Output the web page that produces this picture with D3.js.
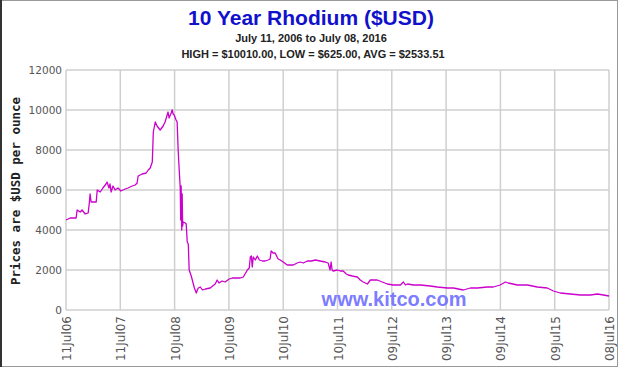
<!DOCTYPE html>
<html><head><meta charset="utf-8">
<script src="https://cdn.jsdelivr.net/npm/d3@7"></script>
<style>body{margin:0;background:#fff}svg{display:block}</style>
</head><body>
<svg id="c" width="620" height="367"></svg>
<script>
const titleText = "10 Year Rhodium ($USD)";
const subtitleText = "July 11, 2006 to July 08, 2016";
const statsText = "HIGH = $10010.00, LOW = $625.00, AVG = $2533.51";
const yAxisLabel = "Prices are $USD per ounce";
const watermarkText = "www.kitco.com";

const dates = ["2006-07-11","2006-08-08","2006-09-17","2006-09-24","2006-10-14","2006-10-27","2006-11-17","2006-12-07","2006-12-14","2006-12-20","2006-12-27","2007-01-30","2007-02-06","2007-02-26","2007-03-16","2007-04-06","2007-04-13","2007-04-26","2007-05-03","2007-05-10","2007-05-23","2007-06-06","2007-06-26","2007-07-15","2007-08-12","2007-09-01","2007-09-29","2007-10-19","2007-11-01","2007-11-08","2007-12-05","2008-01-01","2008-01-15","2008-01-28","2008-02-11","2008-02-18","2008-03-02","2008-03-14","2008-04-04","2008-04-24","2008-05-07","2008-05-21","2008-05-27","2008-06-03","2008-06-17","2008-06-24","2008-06-30","2008-07-07","2008-07-20","2008-07-27","2008-08-03","2008-08-10","2008-08-17","2008-08-20","2008-08-23","2008-08-27","2008-08-30","2008-09-02","2008-09-06","2008-09-20","2008-09-26","2008-10-03","2008-10-10","2008-10-16","2008-10-30","2008-11-06","2008-11-13","2008-11-20","2008-12-03","2008-12-10","2008-12-16","2008-12-30","2009-01-13","2009-02-02","2009-03-06","2009-04-09","2009-04-22","2009-05-05","2009-05-25","2009-06-15","2009-07-12","2009-08-01","2009-09-25","2009-10-15","2009-11-11","2009-11-24","2009-12-01","2009-12-08","2009-12-14","2009-12-21","2010-01-04","2010-01-17","2010-01-31","2010-02-20","2010-03-11","2010-03-30","2010-04-13","2010-04-20","2010-05-03","2010-05-17","2010-05-30","2010-06-06","2010-06-20","2010-07-10","2010-08-06","2010-09-16","2010-10-12","2010-11-01","2010-11-22","2010-12-19","2011-01-15","2011-02-12","2011-03-15","2011-04-18","2011-05-08","2011-05-21","2011-05-28","2011-06-04","2011-06-11","2011-07-08","2011-07-28","2011-08-17","2011-09-07","2011-09-20","2011-10-17","2011-11-20","2011-12-10","2011-12-30","2012-01-27","2012-02-16","2012-03-13","2012-04-02","2012-05-06","2012-06-09","2012-07-19","2012-09-05","2012-09-25","2012-10-09","2012-10-22","2012-12-02","2013-01-18","2013-03-24","2013-05-10","2013-07-17","2013-08-27","2013-11-02","2013-12-19","2014-02-05","2014-04-12","2014-05-22","2014-07-08","2014-08-11","2014-08-31","2014-10-31","2015-01-07","2015-03-14","2015-05-20","2015-06-30","2015-08-16","2015-10-22","2015-12-29","2016-03-05","2016-04-21","2016-06-01","2016-07-08"];
const prices = [4500,4600,4600,5000,4900,5000,4800,4850,5300,5800,5400,5400,6000,5900,6100,6300,6400,6100,6300,5900,6200,6000,6100,5950,6050,6100,6200,6250,6350,6700,6800,6850,7000,7100,7400,8900,9400,9200,9000,9200,9400,9750,9900,9600,9850,10010,9800,9750,9500,9400,8000,7000,6100,4500,6200,4000,5800,4200,4400,4350,4300,3400,3300,2000,1700,1500,1300,1100,850,1000,1100,1150,1000,1050,1100,1300,1500,1350,1450,1400,1550,1600,1600,1650,2000,2100,2650,2700,2150,2650,2500,2700,2500,2450,2450,2500,2550,2950,2850,2850,2650,2550,2500,2400,2250,2250,2350,2400,2350,2450,2450,2500,2450,2400,2350,2000,2400,2000,1950,2000,1950,1950,1800,1750,1700,1650,1500,1400,1300,1500,1500,1500,1400,1300,1250,1250,1400,1250,1300,1250,1250,1200,1150,1100,1100,1000,1100,1100,1150,1150,1250,1400,1350,1250,1250,1150,1100,950,850,800,750,750,800,750,700];

const xTickDates = ["2006-07-11","2007-07-11","2008-07-10","2009-07-10","2010-07-10","2011-07-10","2012-07-09","2013-07-09","2014-07-09","2015-07-09","2016-07-08"];
const xTickLabels = ["11Jul06","11Jul07","10Jul08","10Jul09","10Jul10","10Jul11","09Jul12","09Jul13","09Jul14","09Jul15","08Jul16"];
const yTicks = [0,2000,4000,6000,8000,10000,12000];

const parse = d3.timeParse("%Y-%m-%d");
const series = dates.map((d,i)=>({date:parse(d), value:prices[i]}));
const tickDates = xTickDates.map(parse);

const svg = d3.select("#c");
const L = 66, R = 609, T = 70, B = 310;
const x = d3.scaleTime().domain([tickDates[0], tickDates[tickDates.length-1]]).range([L,R]);
const y = d3.scaleLinear().domain([0,12000]).range([B,T]);

// outer frame
svg.append("rect").attr("x",0.5).attr("y",0.5).attr("width",617).attr("height",366)
  .attr("fill","none").attr("stroke","#999");
svg.append("line").attr("x1",1).attr("x2",1).attr("y1",0).attr("y2",367).attr("stroke","#333").attr("stroke-width",2);

// grid
const grid = svg.append("g").attr("stroke","#cfcfcf").attr("stroke-width",1.5);
grid.selectAll(".h").data(yTicks).join("line")
  .attr("x1",L).attr("x2",R).attr("y1",d=>y(d)).attr("y2",d=>y(d));
grid.selectAll(".v").data(tickDates).join("line")
  .attr("y1",T).attr("y2",B).attr("x1",d=>x(d)).attr("x2",d=>x(d));

// axes
const yAxis = svg.append("g").attr("transform",`translate(${L},0)`)
  .call(d3.axisLeft(y).tickValues(yTicks).tickSize(0).tickPadding(4).tickFormat(d3.format("d")));
yAxis.select(".domain").remove();
yAxis.selectAll("text").attr("font-family","DejaVu Sans").attr("font-size",10.5).attr("fill","#555");

const xAxis = svg.append("g").attr("transform",`translate(0,${B})`)
  .call(d3.axisBottom(x).tickValues(tickDates).tickSize(0).tickFormat((d,i)=>xTickLabels[i]));
xAxis.select(".domain").remove();
xAxis.selectAll("text").attr("font-family","DejaVu Sans").attr("font-size",12).attr("fill","#555")
  .attr("text-anchor","end").attr("transform","rotate(-90)").attr("x",-6).attr("y",0).attr("dy","0.38em");

// line
const line = d3.line().x(d=>x(d.date)).y(d=>y(d.value));
svg.append("path").datum(series).attr("d",line).attr("fill","none")
  .attr("stroke","#cc00cc").attr("stroke-width",1.3).attr("stroke-linejoin","round");

// watermark
svg.append("text").attr("x",394).attr("y",306).attr("text-anchor","middle")
  .attr("font-family","Liberation Sans, Arial, sans-serif").attr("font-weight","bold").attr("font-size",20)
  .attr("fill","#6b6bff").attr("fill-opacity",0.9).text(watermarkText);

// titles
svg.append("text").attr("x",311).attr("y",25).attr("text-anchor","middle")
  .attr("font-family","Liberation Sans, Arial, sans-serif").attr("font-weight","bold").attr("font-size",21)
  .attr("fill","#1111cc").text(titleText);
svg.append("text").attr("x",311).attr("y",42).attr("text-anchor","middle")
  .attr("font-family","Liberation Sans, Arial, sans-serif").attr("font-weight","bold").attr("font-size",11)
  .attr("fill","#222").text(subtitleText);
svg.append("text").attr("x",313).attr("y",58).attr("text-anchor","middle")
  .attr("font-family","Liberation Sans, Arial, sans-serif").attr("font-weight","bold").attr("font-size",11)
  .attr("fill","#222").text(statsText);

svg.append("text").attr("transform","translate(20,191) rotate(-90)").attr("text-anchor","middle")
  .attr("font-family","DejaVu Sans Mono, monospace").attr("font-weight","bold").attr("font-size",12.5)
  .attr("fill","#222").text(yAxisLabel);
</script>
</body></html>
